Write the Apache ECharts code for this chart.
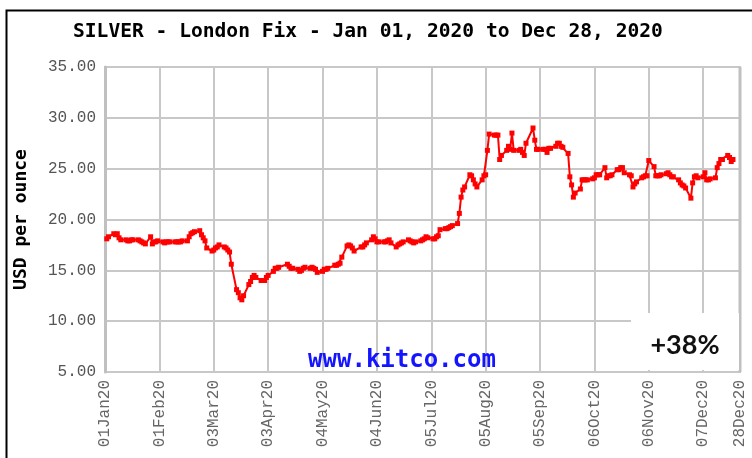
<!DOCTYPE html>
<html>
<head>
<meta charset="utf-8">
<script src="https://cdn.jsdelivr.net/npm/echarts@6/dist/echarts.min.js"></script>
<style>
html,body{margin:0;padding:0;background:#fff;}
#chart{width:752px;height:458px;}
</style>
</head>
<body>
<div id="chart"></div>
<script>
// Trading dates (MM-DD, 2020) and London Fix silver prices (USD/oz)
var tradeDates = [
 '01-02','01-03','01-06','01-07','01-08','01-09','01-10','01-13','01-14','01-15','01-16','01-17','01-20','01-21','01-22','01-23','01-24','01-27','01-28','01-29','01-30','01-31',
 '02-03','02-04','02-05','02-06','02-07','02-10','02-11','02-12','02-13','02-14','02-17','02-18','02-19','02-20','02-21','02-24','02-25','02-26','02-27','02-28',
 '03-02','03-03','03-04','03-05','03-06','03-09','03-10','03-11','03-12','03-13','03-16','03-17','03-18','03-19','03-20','03-23','03-24','03-25','03-26','03-27','03-30','03-31',
 '04-01','04-02','04-03','04-06','04-07','04-08','04-09','04-14','04-15','04-16','04-17','04-20','04-21','04-22','04-23','04-24','04-27','04-28','04-29','04-30',
 '05-01','05-04','05-05','05-06','05-07','05-11','05-12','05-13','05-14','05-15','05-18','05-19','05-20','05-21','05-22','05-26','05-27','05-28','05-29',
 '06-01','06-02','06-03','06-04','06-05','06-08','06-09','06-10','06-11','06-12','06-15','06-16','06-17','06-18','06-19','06-22','06-23','06-24','06-25','06-26','06-29','06-30',
 '07-01','07-02','07-03','07-06','07-07','07-08','07-09','07-10','07-13','07-14','07-15','07-16','07-17','07-20','07-21','07-22','07-23','07-24','07-27','07-28','07-29','07-30','07-31',
 '08-03','08-04','08-05','08-06','08-07','08-10','08-11','08-12','08-13','08-14','08-17','08-18','08-19','08-20','08-21','08-24','08-25','08-26','08-27','08-28',
 '09-01','09-02','09-03','09-04','09-07','09-08','09-09','09-10','09-11','09-14','09-15','09-16','09-17','09-18','09-21','09-22','09-23','09-24','09-25','09-28','09-29','09-30',
 '10-01','10-02','10-05','10-06','10-07','10-08','10-09','10-12','10-13','10-14','10-15','10-16','10-19','10-20','10-21','10-22','10-23','10-26','10-27','10-28','10-29','10-30',
 '11-02','11-03','11-04','11-05','11-06','11-09','11-10','11-11','11-12','11-13','11-16','11-17','11-18','11-19','11-20','11-23','11-24','11-25','11-26','11-27','11-30',
 '12-01','12-02','12-03','12-04','12-07','12-08','12-09','12-10','12-11','12-14','12-15','12-16','12-17','12-18','12-21','12-22','12-23','12-24'
];
var fixPrices = [
 18.1,18.3,18.6,18.5,18.6,18.2,18.0,18.0,17.9,17.9,18.0,18.0,18.0,17.9,17.8,17.7,17.6,18.3,17.6,17.8,17.8,17.9,
 17.8,17.7,17.8,17.8,17.8,17.8,17.8,17.8,17.8,17.9,17.9,18.3,18.6,18.7,18.8,18.9,18.5,18.2,17.9,17.2,
 16.9,17.0,17.2,17.3,17.5,17.3,17.2,17.0,16.8,15.6,13.1,12.8,12.3,12.1,12.5,13.6,13.9,14.3,14.5,14.3,14.0,14.0,
 14.0,14.3,14.5,14.9,15.2,15.2,15.3,15.6,15.4,15.2,15.2,15.1,14.9,15.0,15.2,15.3,15.2,15.3,15.2,15.1,
 14.8,14.9,15.1,15.1,15.2,15.5,15.5,15.6,15.7,16.3,17.4,17.5,17.4,17.2,16.9,17.3,17.3,17.5,17.7,
 18.0,18.3,18.1,17.8,17.8,17.8,17.8,17.9,18.0,17.7,17.3,17.5,17.6,17.7,17.8,18.0,17.9,17.8,17.7,17.8,17.9,18.0,
 18.1,18.3,18.2,18.1,18.1,18.3,18.4,19.0,19.1,19.1,19.2,19.3,19.4,19.6,20.6,22.2,22.9,23.2,24.4,24.3,23.9,23.5,23.2,
 23.9,24.3,24.4,26.8,28.4,28.3,28.3,28.3,25.9,26.3,26.8,27.2,26.9,28.5,26.8,26.8,26.9,26.6,26.3,27.5,
 29.0,27.8,26.9,26.9,26.9,26.9,26.6,27.0,27.0,27.2,27.5,27.5,27.2,27.1,26.5,24.2,23.4,22.2,22.6,23.0,23.9,23.9,
 23.9,23.9,24.0,24.1,24.4,24.4,24.4,25.1,24.1,24.3,24.3,24.4,24.9,24.9,25.1,25.1,24.6,24.4,24.3,23.2,23.5,23.7,
 24.1,24.2,24.3,24.3,25.8,25.2,24.3,24.3,24.3,24.4,24.5,24.6,24.4,24.2,24.2,23.9,23.6,23.4,23.3,23.1,22.1,
 23.6,24.2,24.3,24.1,24.2,24.6,23.9,23.9,24.0,24.1,25.1,25.5,25.9,25.9,26.3,26.1,25.7,25.9
];
var tickLabels = ['01Jan20','01Feb20','03Mar20','03Apr20','04May20','04Jun20','05Jul20','05Aug20','05Sep20','06Oct20','06Nov20','07Dec20'];
var endLabel = '28Dec20';
var endDay = 362;

function dayIndex(md) {
  var p = md.split('-');
  return Math.round((Date.UTC(2020, +p[0] - 1, +p[1]) - Date.UTC(2020, 0, 1)) / 86400000);
}
var seriesData = tradeDates.map(function (d, i) { return [dayIndex(d), fixPrices[i]]; });

var chart = echarts.init(document.getElementById('chart'), null, {renderer: 'canvas'});
var gridColor = '#c8c8c8';
chart.setOption({
  animation: false,
  backgroundColor: '#ffffff',
  title: {
    text: 'SILVER - London Fix - Jan 01, 2020 to Dec 28, 2020',
    left: 68, top: 17,
    textStyle: {fontFamily: 'DejaVu Sans Mono', fontWeight: 'bold', fontSize: 19.6, color: '#000'}
  },
  grid: {left: 105, right: 12, top: 67, bottom: 86, show: true, borderColor: gridColor, borderWidth: 2},
  xAxis: {
    type: 'value', min: 0, max: endDay, interval: 31,
    axisLine: {show: false},
    axisTick: {show: false},
    splitLine: {show: true, lineStyle: {color: gridColor, width: 2}},
    axisLabel: {
      rotate: 90, margin: 8, color: '#666',
      fontFamily: 'Liberation Mono', fontSize: 16,
      showMaxLabel: true, showMinLabel: true,
      formatter: function (v) {
        if (v >= endDay) return endLabel;
        return tickLabels[Math.round(v / 31)] || '';
      }
    }
  },
  yAxis: {
    type: 'value', min: 5, max: 35, interval: 5,
    name: 'USD per ounce', nameLocation: 'middle', nameGap: 75,
    nameTextStyle: {fontFamily: 'DejaVu Sans Mono', fontWeight: 'bold', fontSize: 18, color: '#000'},
    axisLine: {show: true, lineStyle: {color: '#c0c0c0', width: 3}},
    axisTick: {show: false},
    splitLine: {show: true, lineStyle: {color: gridColor, width: 2}},
    axisLabel: {
      margin: 9, color: '#555', fontFamily: 'Liberation Mono', fontSize: 16,
      formatter: function (v) { return v.toFixed(2); }
    }
  },
  series: [{
    type: 'line',
    data: seriesData,
    symbol: 'rect', symbolSize: 5,
    lineStyle: {color: '#ff0000', width: 2},
    itemStyle: {color: '#ff0000'},
    z: 3
  }],
  graphic: [
    {type: 'rect', left: 4, top: 8, shape: {width: 800, height: 500}, style: {fill: null, stroke: '#000', lineWidth: 2}, z: 100, silent: true},
    {type: 'line', shape: {x1: 740, y1: 67, x2: 740, y2: 372}, style: {stroke: '#c0c0c0', lineWidth: 3}, z: 5, silent: true},
    {type: 'rect', shape: {x: 631, y: 313, width: 108, height: 57}, style: {fill: '#ffffff'}, z: 10, silent: true},
    {type: 'text', style: {text: '+38%', x: 685, y: 345, textAlign: 'center', textVerticalAlign: 'middle', font: 'bold 27px Lato', fill: '#111'}, z: 11, silent: true},
    {type: 'text', style: {text: 'www.kitco.com', x: 402, y: 361, textAlign: 'center', textVerticalAlign: 'middle', font: 'bold 24px "DejaVu Sans Mono"', fill: '#1414ff'}, z: 11, silent: true}
  ]
});
</script>
</body>
</html>
